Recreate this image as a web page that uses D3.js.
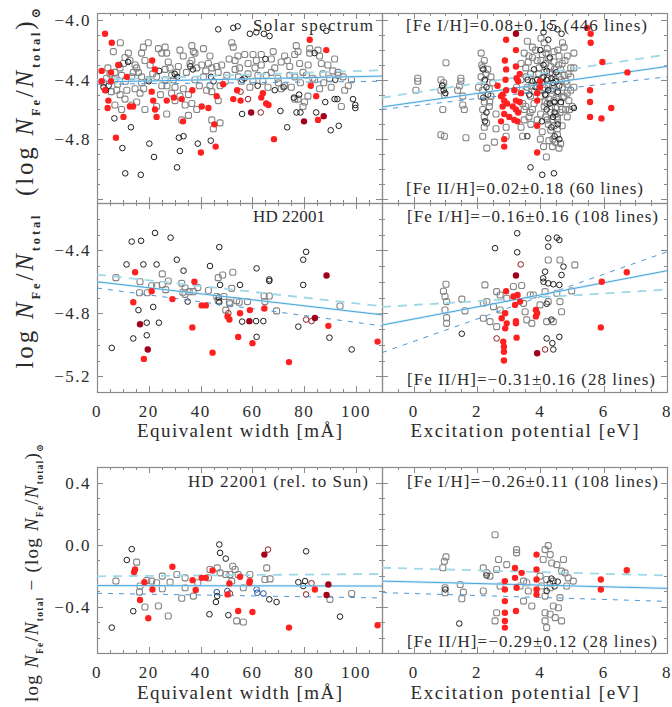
<!DOCTYPE html>
<html>
<head>
<meta charset="utf-8">
<script src="https://cdn.jsdelivr.net/npm/d3@7"></script>
<style>
  body { margin: 0; background: #fff; }
  svg text { font-family: "Liberation Serif", "DejaVu Serif", serif; fill: #2b2b2b; }
</style>
</head>
<body>
<svg id="chart" width="672" height="707"></svg>
<script>
// ---- data: [x, value]; kind added below: g = grey Fe I, k = black Fe I, o = open dark red,
//      b = open blue, r = red Fe II, d = dark red Fe II

const solarEWGrey = [
  [9.0,-4.15],[6.3,-4.21],[10.8,-4.25],[12.7,-4.27],[10.2,-4.29],[8.9,-4.32],[15.3,-4.32],[16.0,-4.35],[13.4,-4.38],[17.2,-4.38],
  [19.8,-4.15],[17.9,-4.18],[17.2,-4.22],[18.5,-4.27],[20.5,-4.30],[23.7,-4.19],[25.0,-4.22],[26.3,-4.18],[26.9,-4.22],[27.5,-4.28],
  [28.2,-4.32],[26.3,-4.33],[28.8,-4.37],[30.8,-4.35],[31.4,-4.31],[32.0,-4.20],[33.3,-4.24],[36.6,-4.17],[37.2,-4.21],[37.8,-4.22],
  [36.6,-4.27],[35.9,-4.29],[38.5,-4.32],[40.4,-4.30],[41.1,-4.19],[43.6,-4.24],[43.0,-4.29],[44.3,-4.32],[46.2,-4.31],[46.8,-4.35],
  [48.1,-4.30],[50.1,-4.37],[52.0,-4.15],[52.6,-4.18],[53.3,-4.27],[53.3,-4.33],[54.6,-4.38],[6.9,-4.40],[7.6,-4.47],[8.9,-4.50],
  [10.8,-4.53],[11.5,-4.47],[14.7,-4.46],[16.6,-4.49],[15.3,-4.55],[13.4,-4.57],[6.9,-4.57],[9.5,-4.60],[18.5,-4.60],[23.0,-4.58],
  [25.0,-4.44],[26.3,-4.40],[30.1,-4.45],[33.3,-4.46],[35.3,-4.50],[36.6,-4.56],[38.5,-4.60],[34.0,-4.57],[32.0,-4.51],[30.1,-4.54],
  [42.3,-4.47],[44.3,-4.48],[46.8,-4.54],[37.8,-4.40],[41.1,-4.38],[43.6,-4.44],[32.7,-4.67],[35.3,-4.64],[44.3,-4.67],[47.5,-4.69],
  [44.9,-4.73],[26.9,-4.63],[17.2,-4.42],[19.8,-4.40],[23.0,-4.38],[28.8,-4.49],[12.1,-4.22],[14.7,-4.30],[6.9,-4.35],[9.5,-4.37],
  [5.0,-4.36],[3.7,-4.39],
  [54.4,-4.24],[57.0,-4.23],[60.2,-4.23],[61.5,-4.27],[58.3,-4.29],[63.4,-4.23],[67.3,-4.26],[71.1,-4.28],[72.4,-4.24],[74.4,-4.31],
  [76.9,-4.17],[77.6,-4.21],[76.3,-4.23],[78.2,-4.29],[82.1,-4.19],[82.1,-4.22],[85.3,-4.20],[85.9,-4.24],[91.7,-4.26],[89.1,-4.30],
  [93.0,-4.35],[87.2,-4.36],[55.7,-4.41],[60.2,-4.41],[62.1,-4.37],[65.3,-4.37],[67.3,-4.35],[69.8,-4.39],[72.4,-4.44],[71.1,-4.46],
  [74.4,-4.37],[76.3,-4.38],[79.5,-4.35],[80.8,-4.37],[83.3,-4.39],[85.9,-4.46],[84.0,-4.40],[89.8,-4.39],[98.2,-4.40],[76.3,-4.53],
  [77.6,-4.53],[80.1,-4.55],[81.4,-4.51],[79.5,-4.58],[94.3,-4.58],[93.0,-4.37],[58.3,-4.36],[63.4,-4.30],[68.6,-4.32],[90.4,-4.45],
  [95.6,-4.47],[86.6,-4.29],
  [2.5,-4.42],[4.2,-4.32],[5.5,-4.48],[8.0,-4.43],[11.0,-4.41],[14.0,-4.35],[18.0,-4.46],[21.5,-4.36],[24.5,-4.50],[27.0,-4.44],
  [29.5,-4.40],[34.5,-4.35],[39.5,-4.44],[42.0,-4.34],[47.5,-4.44],[49.5,-4.41],[51.0,-4.26],[55.0,-4.32],[59.0,-4.45],[61.0,-4.32],
  [64.0,-4.41],[66.0,-4.45],[70.0,-4.42],[73.5,-4.27],[75.0,-4.45],[78.5,-4.42],[81.5,-4.30],[87.5,-4.42],[91.0,-4.34],[95.0,-4.38],
  [97.0,-4.44],[68.0,-4.21]
];
const solarEWBlack = [
  [6.7,-4.66],[13.1,-4.72],[9.8,-4.86],[10.9,-5.03],[16.9,-5.04],[20.2,-4.83],[22.0,-4.92],[30.9,-4.99],[31.6,-4.79],[33.4,-4.78],
  [32.0,-4.88],[38.9,-4.83],[43.9,-4.81],[46.8,-4.06],[52.6,-4.05],[54.3,-4.04],[59.0,-4.09],[61.5,-4.08],[64.4,-4.09],[66.6,-4.105],
  [88.5,-4.07],[68.6,-4.47],[56.0,-4.63],[70.8,-4.61],[77.0,-4.62],[78.5,-4.62],[84.6,-4.62],[73.4,-4.72],[90.2,-4.74],[93.3,-4.71],
  [88.1,-4.55],[91.7,-4.53],[92.8,-4.53],[98.8,-4.53],[99.7,-4.57],[99.7,-4.59],
  [2.5,-4.45],[3.5,-4.47],[4.5,-4.44],[8.5,-4.30],[12.0,-4.28],[20.0,-4.41],[24.0,-4.34],[30.0,-4.36],[31.0,-4.38],[36.0,-4.31],
  [37.0,-4.33],[44.0,-4.38],[45.0,-4.41],[56.0,-4.40],[57.0,-4.39],[62.0,-4.44],[72.0,-4.45],[76.0,-4.52],[78.0,-4.50],[65.0,-4.26],
  [92.0,-4.40],[84.0,-4.22]
];
const solarEWOpenRed = [[58.3,-4.53],[63.2,-4.62],[55.4,-4.48]];
const solarEWRed = [
  [3.1,-4.09],[5.7,-4.15],[1.8,-4.34],[5.4,-4.35],[8.2,-4.30],[1.8,-4.41],[5.4,-4.41],[3.1,-4.47],[4.4,-4.54],[4.1,-4.59],
  [11.5,-4.38],[12.7,-4.58],[13.9,-4.58],[10.2,-4.65],[21.3,-4.27],[22.4,-4.33],[21.1,-4.48],[21.7,-4.54],[22.4,-4.60],[23.0,-4.65],
  [7.3,-4.79],[26.9,-4.54],[29.7,-4.52],[32.7,-4.53],[36.8,-4.47],[40.4,-4.58],[43.0,-4.59],[40.1,-4.89],[45.3,-4.70],[45.8,-4.85],
  [46.2,-4.51],[48.7,-4.43],[52.6,-4.53],[54.1,-4.47],[82.1,-4.13],[88.5,-4.20],[82.5,-4.44],[84.6,-4.51],[64.0,-4.49],[63.4,-4.52],
  [65.3,-4.56],[66.2,-4.57],[55.4,-4.54],[85.3,-4.67],[68.3,-4.80],[33.2,-4.68]
];
const solarEWDark = [[59.5,-4.62],[79.9,-4.68],[87.5,-4.645]];

const solarEPGrey = [
  [1.02,-4.285],[0.13,-4.39],[0.13,-4.41],[0.07,-4.47],[0.86,-4.40],[0.92,-4.44],[0.86,-4.47],[0.97,-4.50],[0.92,-4.60],[0.86,-4.77],
  [0.97,-4.78],[1.49,-4.39],[1.49,-4.41],[1.39,-4.47],[1.55,-4.51],[1.55,-4.57],[1.60,-4.60],[1.65,-4.79],[2.13,-4.22],[2.23,-4.27],
  [2.18,-4.32],[2.13,-4.38],[2.23,-4.41],[2.18,-4.47],[2.13,-4.51],[2.23,-4.55],[2.18,-4.60],[2.23,-4.65],[2.23,-4.72],[2.18,-4.78],
  [2.31,-4.86],[2.34,-4.33],[2.44,-4.38],[2.39,-4.46],[2.44,-4.51],[2.39,-4.58],[2.60,-4.63],[2.60,-4.73],[2.55,-4.82],[2.92,-4.72],
  [2.92,-4.78],[3.44,-4.78],[3.49,-4.60],[3.39,-4.29],[3.49,-4.22],[3.39,-4.40],[3.55,-4.47],[3.44,-4.56],[3.49,-4.67],[3.39,-4.72],
  [3.59,-4.14],[3.75,-4.18],[3.64,-4.24],[3.54,-4.32],[3.69,-4.36],[3.59,-4.45],[3.69,-4.51],[3.54,-4.58],[3.64,-4.65],[3.75,-4.60],
  [4.12,-4.15],[4.22,-4.19],[4.06,-4.23],[4.27,-4.26],[4.17,-4.29],[4.33,-4.31],[4.12,-4.35],[4.38,-4.36],[4.22,-4.39],[4.48,-4.40],
  [4.12,-4.45],[4.33,-4.47],[4.54,-4.49],[4.17,-4.50],[4.43,-4.54],[4.22,-4.56],[4.48,-4.59],[4.33,-4.62],[4.54,-4.65],[4.22,-4.67],
  [4.43,-4.71],[4.33,-4.74],[4.54,-4.77],[4.48,-4.82],[4.59,-4.86],[4.64,-4.83],[4.54,-4.73],[4.75,-4.18],[4.85,-4.24],[5.06,-4.22],
  [4.69,-4.29],[4.96,-4.32],[4.75,-4.37],[5.06,-4.32],[4.80,-4.41],[4.96,-4.47],[4.75,-4.51],[5.01,-4.58],[4.69,-4.60],[4.85,-4.65],
  [4.19,-4.92],[3.85,-4.20],[3.90,-4.27],[3.96,-4.32],[3.85,-4.40],[3.96,-4.47],[3.80,-4.56],[4.01,-4.63],[3.90,-4.67],[4.06,-4.75],
  [4.27,-4.81],[4.38,-4.85],[4.64,-4.33],[4.59,-4.24],[4.43,-4.21],[4.85,-4.49],[4.90,-4.54],[4.64,-4.56],[4.80,-4.60],[4.54,-4.67],
  [4.69,-4.71],[4.48,-4.63],[4.38,-4.44],[4.27,-4.53],[4.12,-4.58],[4.01,-4.51],[4.17,-4.65],[4.38,-4.67],[4.06,-4.39],[4.43,-4.28],
  [4.59,-4.38],[4.96,-4.38],[5.06,-4.45],[3.70,-4.70],[4.00,-4.80],[4.70,-4.45],[2.05,-4.45],[2.30,-4.69],
  [3.62,-4.28],[3.72,-4.44],[3.82,-4.48],[3.95,-4.36],[4.02,-4.27],[4.08,-4.47],[4.15,-4.55],[4.25,-4.44],[4.30,-4.35],[4.35,-4.58],
  [4.40,-4.46],[4.45,-4.33],[4.50,-4.52],[4.58,-4.30],[4.62,-4.62],[4.66,-4.40],[4.72,-4.52],[4.78,-4.27],[4.84,-4.43],[4.88,-4.36],
  [4.92,-4.60],[4.25,-4.70],[4.40,-4.80],[4.10,-4.85],[3.75,-4.25],[3.68,-4.62],[4.55,-4.20],[4.18,-4.22],[4.02,-4.12],[4.70,-4.15],
  [3.25,-4.45],[3.55,-4.38],[2.15,-4.30],[2.40,-4.55],[2.28,-4.36],[0.95,-4.42],[1.45,-4.44],[2.50,-4.42]
];
const solarEPBlack = [
  [4.10,-4.08],[4.30,-4.04],[4.54,-4.06],[4.67,-4.09],[3.69,-4.99],[4.06,-5.04],[4.43,-5.03],[3.59,-4.78],[5.06,-4.59],
  [2.20,-4.33],[2.25,-4.40],[2.30,-4.45],[2.35,-4.50],[2.20,-4.52],[2.30,-4.62],[2.25,-4.68],[0.90,-4.44],[0.95,-4.47],[1.00,-4.49],
  [3.60,-4.40],[3.75,-4.41],[3.90,-4.40],[4.05,-4.42],[4.20,-4.40],[4.35,-4.39],[4.50,-4.41],[4.10,-4.30],[4.30,-4.25],[4.45,-4.55],
  [4.20,-4.60],[4.35,-4.72],[4.45,-4.78],[4.60,-4.80],[3.65,-4.50],[3.80,-4.33],[4.00,-4.20],[4.25,-4.13],[4.55,-4.48],[4.40,-4.65],
  [3.95,-4.43],[4.10,-4.38],[4.25,-4.47],[4.40,-4.42],[4.15,-4.50],[4.30,-4.56],[4.50,-4.35],[4.60,-4.44],[3.85,-4.45],[4.45,-4.62],
  [4.05,-4.68],[4.55,-4.70],[4.65,-4.55],[4.20,-4.34]
];
const solarEPRed = [
  [2.92,-4.13],[3.23,-4.20],[2.88,-4.27],[2.92,-4.33],[3.23,-4.31],[2.65,-4.44],[2.81,-4.50],[2.86,-4.54],[2.81,-4.58],[2.86,-4.63],
  [2.76,-4.68],[3.18,-4.47],[3.23,-4.54],[3.23,-4.60],[3.28,-4.68],[3.39,-4.49],[3.13,-4.58],[2.86,-4.80],[2.86,-4.85],[3.18,-4.67],
  [2.76,-4.51],[2.92,-4.47],[3.02,-4.65],[3.30,-4.41],[3.99,-4.41],[3.99,-4.45],[5.59,-4.09],[5.59,-4.15],[5.48,-4.05],[5.96,-4.28],
  [6.75,-4.35],[5.57,-4.47],[5.57,-4.55],[5.57,-4.65],[5.93,-4.66],[6.24,-4.59],[3.90,-4.71],[3.90,-4.89],[3.90,-4.49],[3.90,-4.54],
  [3.35,-4.36],[3.25,-4.39],[2.90,-4.40],[2.95,-4.56],[3.30,-4.62],[3.35,-4.55]
];
const solarEPDark = [[3.23,-4.09]];

const starEWGrey = [
  [7.3,-4.574],[16.6,-4.60],[16.4,-4.67],[19.4,-4.67],[21.1,-4.625],[25.2,-4.55],[25.2,-4.617],[26.5,-4.65],[27.5,-4.595],[23.0,-4.625],
  [32.7,-4.61],[34.0,-4.64],[34.0,-4.68],[35.6,-4.663],[33.1,-4.667],[37.2,-4.663],[38.9,-4.637],[43.0,-4.656],[46.2,-4.694],[46.8,-4.72],
  [46.8,-4.574],[48.5,-4.557],[49.0,-4.694],[49.7,-4.78],[51.1,-4.73],[52.0,-4.642],[52.4,-4.54],[53.9,-4.72],[51.3,-4.74],[58.1,-4.726],
  [64.5,-4.69],[66.5,-4.69],[69.3,-4.785],[93.8,-4.754],[64.8,-4.726],[54.9,-4.73]
];
const starEWBlack = [
  [5.7,-5.02],[11.4,-4.49],[13.4,-4.345],[17.0,-4.34],[17.9,-4.49],[22.4,-4.29],[23.0,-4.49],[28.4,-4.32],[30.8,-4.46],[33.4,-4.53],
  [35.0,-4.726],[21.7,-4.76],[16.0,-4.78],[14.0,-4.96],[19.2,-4.94],[19.2,-4.86],[23.9,-4.86],[43.6,-4.50],[47.2,-4.38],[47.5,-4.62],
  [55.2,-4.62],[61.6,-4.515],[56.0,-4.853],[61.4,-4.85],[64.2,-4.85],[61.6,-4.95],[66.5,-4.585],[66.5,-4.595],[77.7,-4.885],[79.6,-4.46],
  [80.7,-4.41],[79.6,-4.62],[89.7,-4.955],[98.3,-5.03],[47.2,-4.73],[47.0,-4.70]
];
const starEWOpenRed = [[50.7,-4.80],[80.7,-4.84],[82.8,-4.85]];
const starEWRed = [
  [14.7,-4.54],[14.0,-4.73],[21.1,-4.66],[18.1,-5.09],[29.1,-4.71],[37.6,-4.60],[36.8,-4.89],[40.4,-4.75],[42.0,-4.75],[44.6,-5.05],
  [50.4,-4.82],[51.1,-4.84],[55.2,-4.80],[54.5,-4.95],[59.0,-4.78],[60.0,-4.99],[64.6,-4.77],[74.1,-5.11],[89.3,-4.88],[108.3,-4.98]
];
const starEWDark = [[16.6,-4.87],[19.6,-5.03],[58.8,-4.85],[84.1,-4.83],[88.6,-4.56]];

const starEPGrey = [
  [1.02,-4.616],[0.94,-4.66],[0.99,-4.694],[1.04,-4.726],[0.99,-4.779],[1.04,-4.828],[1.04,-4.864],[1.52,-4.71],[1.62,-4.785],[2.25,-4.62],
  [2.31,-4.726],[2.20,-4.832],[2.41,-4.853],[2.62,-4.885],[2.20,-4.737],[2.52,-4.758],[2.62,-4.663],[2.73,-4.684],[2.94,-4.705],[3.41,-4.624],
  [3.47,-4.737],[3.52,-4.79],[3.68,-4.684],[3.73,-4.864],[3.57,-4.842],[3.99,-4.747],[4.15,-4.663],[4.25,-4.726],[4.62,-4.462],[5.09,-4.493],
  [4.25,-4.462],[4.99,-4.658],[4.41,-4.853],[4.62,-4.726],[4.67,-4.79],[4.20,-4.853],[3.78,-4.684],[4.52,-4.673],[2.73,-4.779],[3.15,-4.63]
];
const starEPBlack = [
  [3.27,-4.292],[2.57,-4.387],[3.27,-4.413],[4.25,-4.324],[4.25,-4.377],[4.52,-4.32],[4.60,-4.335],[1.52,-4.93],[4.20,-4.96],[4.38,-4.99],
  [4.60,-4.95],[4.41,-5.03],[4.73,-4.504],[4.67,-4.557],[4.09,-4.578],[4.15,-4.536],[4.25,-4.61],[4.41,-4.616],[4.10,-4.60],[4.20,-4.74],
  [4.35,-4.84],[4.60,-4.62]
];
const starEPOpenRed = [[3.38,-4.49],[4.15,-5.03],[2.62,-4.96]];
const starEPRed = [
  [2.92,-4.66],[3.15,-4.694],[3.20,-4.747],[2.89,-4.80],[2.94,-4.864],[3.23,-4.85],[3.23,-4.864],[3.25,-4.955],[2.83,-4.98],[2.85,-5.012],
  [2.85,-5.044],[2.85,-5.10],[3.86,-4.779],[3.86,-4.82],[5.94,-4.60],[6.73,-4.54],[5.91,-4.89],[3.36,-4.726],[3.28,-4.684],[2.78,-4.832],
  [2.89,-4.896],[3.90,-4.80]
];
const starEPDark = [[3.23,-4.56],[3.90,-5.054]];

const relEWGrey = [
  [7.3,-0.236],[15.3,-0.114],[16.6,-0.268],[16.4,-0.307],[18.5,-0.403],[19.2,-0.232],[21.1,-0.236],[23.0,-0.247],[25.2,-0.204],[25.2,-0.285],
  [27.5,-0.461],[23.7,-0.397],[28.2,-0.243],[30.8,-0.194],[32.7,-0.347],[34.0,-0.215],[34.0,-0.279],[37.2,-0.333],[38.9,-0.247],[43.0,-0.215],
  [43.6,-0.161],[46.4,-0.151],[47.5,-0.183],[49.7,-0.194],[51.3,-0.194],[52.4,-0.14],[53.3,-0.161],[53.9,-0.493],[56.5,-0.50],[54.5,-0.194],
  [59.0,-0.194],[64.8,-0.226],[65.5,-0.151],[66.8,-0.222],[89.9,-0.354],[98.3,-0.316],[52.0,-0.236],[56.5,-0.279]
];
const relEWBlack = [
  [5.7,-0.536],[11.5,-0.10],[13.4,-0.03],[14.0,-0.43],[47.2,0.0],[47.5,-0.054],[49.7,-0.091],[45.9,-0.371],[46.4,-0.333],[43.4,-0.45],
  [50.7,-0.456],[66.5,-0.354],[69.3,-0.371],[80.7,-0.044],[93.8,-0.465],[77.7,-0.243],[79.6,-0.268],[80.3,-0.236]
];
const relEWOpenRed = [[66.0,-0.033],[51.3,-0.316],[80.7,-0.322],[82.8,-0.25]];
const relEWBlue = [[46.2,-0.307],[61.6,-0.29],[61.9,-0.311],[64.2,-0.316],[50.3,-0.30]];
const relEWRed = [
  [14.3,-0.178],[14.7,-0.161],[16.6,-0.358],[18.3,-0.243],[19.8,-0.476],[21.4,-0.29],[29.1,-0.144],[36.9,-0.23],[38.1,-0.294],[40.4,-0.215],
  [42.0,-0.215],[44.6,-0.168],[50.4,-0.322],[51.1,-0.251],[54.5,-0.429],[55.2,-0.208],[59.0,-0.236],[60.0,-0.435],[74.1,-0.536],[84.1,-0.29],
  [108.3,-0.521],[58.8,-0.247]
];
const relEWDark = [[64.6,-0.065],[89.3,-0.258],[88.6,-0.326]];

const relEPGrey = [
  [2.57,0.063],[3.25,-0.033],[3.25,-0.054],[1.02,-0.08],[0.97,-0.108],[0.92,-0.15],[2.68,-0.097],[2.62,-0.161],[2.20,-0.151],[2.31,-0.183],
  [2.41,-0.204],[1.47,-0.258],[1.57,-0.307],[1.52,-0.35],[0.99,-0.279],[0.99,-0.311],[2.62,-0.44],[2.57,-0.493],[2.20,-0.30],[2.73,-0.268],
  [2.94,-0.13],[3.47,-0.236],[3.36,-0.268],[3.47,-0.365],[3.73,-0.397],[4.15,-0.033],[4.25,-0.007],[4.31,-0.065],[4.09,-0.097],[4.36,-0.119],
  [4.52,-0.13],[4.73,-0.097],[4.67,-0.172],[4.78,-0.183],[4.88,-0.215],[4.20,-0.226],[4.41,-0.236],[4.04,-0.268],[4.31,-0.279],[4.15,-0.333],
  [4.62,-0.343],[4.15,-0.44],[4.31,-0.45],[4.15,-0.493],[4.20,-0.536],[4.47,-0.472],[4.67,-0.493],[4.57,-0.408],[4.41,-0.397],[3.99,-0.204],
  [3.57,-0.247],[3.62,-0.30],[5.04,-0.236],[4.83,-0.268]
];
const relEPBlack = [[1.44,-0.51],[1.00,-0.29],[4.30,-0.25],[4.45,-0.27],[4.55,-0.24],[4.20,-0.30],[2.30,-0.20],[4.35,-0.22]];
const relEPRed = [
  [3.88,-0.065],[3.88,-0.161],[3.88,-0.226],[3.88,-0.29],[3.88,-0.322],[3.20,-0.151],[3.41,-0.183],[3.20,-0.215],[3.25,-0.279],[3.23,-0.429],
  [2.88,-0.236],[2.88,-0.29],[2.88,-0.365],[2.88,-0.44],[2.88,-0.493],[2.88,-0.536],[5.91,-0.226],[5.91,-0.29],[6.73,-0.166]
];

// fitted trends: [x0, y0, x1, y1] for solid fit, long-dash and short-dash bounds
const solarEWFit = [[0,-4.415,110,-4.375],[0,-4.40,110,-4.335],[0,-4.43,110,-4.41]];
const solarEPFit = [[-1,-4.583,8,-4.31],[-1,-4.52,8,-4.23],[-1,-4.60,8,-4.38]];
const starEWFit = [[0,-4.60,110,-4.81],[0,-4.555,110,-4.755],[0,-4.64,110,-4.88]];
const starEPFit = [[-1,-4.875,8,-4.53],[-1,-4.76,8,-4.65],[-1,-5.05,8,-4.41]];
const relEWFit = [[0,-0.265,110,-0.268],[0,-0.205,110,-0.19],[0,-0.315,110,-0.345]];
const relEPFit = [[-1,-0.236,8,-0.283],[-1,-0.15,8,-0.20],[-1,-0.31,8,-0.367]];

const ewTicks = [0, 20, 40, 60, 80, 100];
const epTicks = [0, 2, 4, 6, 8];
const solarTicks = [-4.0, -4.4, -4.8];
const starTicks = [-4.4, -4.8, -5.2];
const relTicks = [0.4, 0.0, -0.4];

const solarNotes = ['Solar spectrum', '[Fe I/H]=0.08\u00b10.15 (446 lines)', '[Fe II/H]=0.02\u00b10.18 (60 lines)'];
const starNotes = ['HD 22001', '[Fe I/H]=\u22120.16\u00b10.16 (108 lines)', '[Fe II/H]=\u22120.31\u00b10.16 (28 lines)'];
const relNotes = ['HD 22001 (rel. to Sun)', '[Fe I/H]=\u22120.26\u00b10.11 (108 lines)', '[Fe II/H]=\u22120.29\u00b10.12 (28 lines)'];

// ---- layout
const svg = d3.select('#chart');
const cols = { left: [97, 382], right: [382, 667] };
const rows = { top: [13, 203], mid: [203, 392], bot: [467, 653] };
const fmt = d3.format('.1f');

const tag = (arr, k) => arr.map(d => [d[0], d[1], k]);

function drawPanel(p) {
  const [x0, x1] = cols[p.col];
  const [y0, y1] = rows[p.row];
  const x = d3.scaleLinear().domain(p.xDomain).range([x0, x1]);
  const y = d3.scaleLinear().domain(p.yDomain).range([y1, y0]);
  const g = svg.append('g');

  const clipId = 'clip-' + p.col + '-' + p.row;
  svg.append('clipPath').attr('id', clipId)
    .append('rect').attr('x', x0).attr('y', y0).attr('width', x1 - x0).attr('height', y1 - y0);

  // ticks on all four sides, pointing inward
  const tk = g.append('g').attr('stroke', '#8a8a8a').attr('stroke-width', 1);
  d3.range(p.xDomain[0], p.xDomain[1] + 1e-6, p.xMinorStep).forEach(v => {
    const major = p.xTicks.some(t => Math.abs(t - v) < 1e-6);
    const len = major ? 6 : 3;
    const px = Math.round(x(v)) + 0.5;
    tk.append('line').attr('x1', px).attr('x2', px).attr('y1', y1).attr('y2', y1 - len);
    tk.append('line').attr('x1', px).attr('x2', px).attr('y1', y0).attr('y2', y0 + len);
  });
  y.ticks(14).forEach(v => {
    const major = Math.abs(Math.round(v * 10)) % 4 === 0;
    const len = major ? 6 : 3;
    const py = Math.round(y(v)) + 0.5;
    tk.append('line').attr('x1', x0).attr('x2', x0 + len).attr('y1', py).attr('y2', py);
    tk.append('line').attr('x1', x1).attr('x2', x1 - len).attr('y1', py).attr('y2', py);
  });

  g.append('rect').attr('x', x0 + 0.5).attr('y', y0 + 0.5)
    .attr('width', x1 - x0).attr('height', y1 - y0)
    .attr('fill', 'none').attr('stroke', '#8a8a8a').attr('stroke-width', 1.2);

  // open symbols
  const pts = g.append('g');
  const pick = k => p.points.filter(d => d[2] === k);
  pts.selectAll('rect.g').data(pick('g')).join('rect')
    .attr('x', d => x(d[0]) - 3).attr('y', d => y(d[1]) - 3)
    .attr('width', 6).attr('height', 6).attr('rx', 2)
    .attr('fill', 'none').attr('stroke', '#858585').attr('stroke-width', 1.1);
  const openStyles = { k: '#1e1e1e', o: '#8e1c22', b: '#23509e' };
  Object.entries(openStyles).forEach(([k, c]) => {
    pts.append('g').selectAll('circle').data(pick(k)).join('circle')
      .attr('cx', d => x(d[0])).attr('cy', d => y(d[1])).attr('r', 2.8)
      .attr('fill', 'none').attr('stroke', c).attr('stroke-width', 1);
  });

  // fit lines
  const ln = g.append('g').attr('clip-path', `url(#${clipId})`);
  const [solid, dashA, dashB] = p.fit;
  const seg = f => ln.append('line')
    .attr('x1', x(f[0])).attr('y1', y(f[1])).attr('x2', x(f[2])).attr('y2', y(f[3]));
  seg(dashA).attr('stroke', '#9fd8e8').attr('stroke-width', 1.8).attr('stroke-dasharray', '9,7');
  seg(dashB).attr('stroke', '#4a98da').attr('stroke-width', 1).attr('stroke-dasharray', '5,6');
  seg(solid).attr('stroke', '#c4e6f4').attr('stroke-width', 2.6).attr('opacity', 0.6);
  seg(solid).attr('stroke', '#4aa6de').attr('stroke-width', 1);

  // filled Fe II symbols on top
  const fillStyles = { r: '#ff2020', d: '#a3001c' };
  Object.entries(fillStyles).forEach(([k, c]) => {
    g.append('g').selectAll('circle').data(pick(k)).join('circle')
      .attr('cx', d => x(d[0])).attr('cy', d => y(d[1])).attr('r', 3.2)
      .attr('fill', c);
  });

  // tick labels
  if (p.xLabels) {
    p.xTicks.forEach(v => {
      svg.append('text').attr('x', x(v)).attr('y', y1 + 25)
        .attr('text-anchor', 'middle').attr('font-size', 17).attr('letter-spacing', 1.5)
        .text(v);
    });
  }
  if (p.yTicks) {
    p.yTicks.forEach(v => {
      svg.append('text').attr('x', x0 - 6).attr('y', y(v) + 6)
        .attr('text-anchor', 'end').attr('font-size', 17).attr('letter-spacing', 1.5)
        .text(fmt(v));
    });
  }

  // annotations
  p.notes.forEach(n => {
    svg.append('text').attr('x', n.x).attr('y', n.y)
      .attr('font-size', 17).attr('textLength', n.len).attr('lengthAdjust', 'spacing')
      .text(n.text);
  });
}

const sets = {
  solarEW: [...tag(solarEWGrey,'g'), ...tag(solarEWBlack,'k'), ...tag(solarEWOpenRed,'o'), ...tag(solarEWRed,'r'), ...tag(solarEWDark,'d')],
  solarEP: [...tag(solarEPGrey,'g'), ...tag(solarEPBlack,'k'), ...tag(solarEPRed,'r'), ...tag(solarEPDark,'d')],
  starEW: [...tag(starEWGrey,'g'), ...tag(starEWBlack,'k'), ...tag(starEWOpenRed,'o'), ...tag(starEWRed,'r'), ...tag(starEWDark,'d')],
  starEP: [...tag(starEPGrey,'g'), ...tag(starEPBlack,'k'), ...tag(starEPOpenRed,'o'), ...tag(starEPRed,'r'), ...tag(starEPDark,'d')],
  relEW: [...tag(relEWGrey,'g'), ...tag(relEWBlack,'k'), ...tag(relEWOpenRed,'o'), ...tag(relEWBlue,'b'), ...tag(relEWRed,'r'), ...tag(relEWDark,'d')],
  relEP: [...tag(relEPGrey,'g'), ...tag(relEPBlack,'k'), ...tag(relEPRed,'r')]
};

const ew = { col: 'left', xDomain: [0, 110], xTicks: ewTicks, xMinorStep: 5 };
const ep = { col: 'right', xDomain: [-1, 8], xTicks: epTicks, xMinorStep: 0.5 };

drawPanel({ ...ew, row: 'top', yDomain: [-5.23, -3.95], yTicks: solarTicks, points: sets.solarEW, fit: solarEWFit,
  notes: [{ text: solarNotes[0], x: 253, y: 31, len: 120 }] });
drawPanel({ ...ep, row: 'top', yDomain: [-5.23, -3.95], points: sets.solarEP, fit: solarEPFit,
  notes: [{ text: solarNotes[1], x: 406, y: 31, len: 241 }, { text: solarNotes[2], x: 406, y: 194, len: 237 }] });
drawPanel({ ...ew, row: 'mid', yDomain: [-5.3, -4.1], yTicks: starTicks, xLabels: true, points: sets.starEW, fit: starEWFit,
  notes: [{ text: starNotes[0], x: 253, y: 222, len: 72 }] });
drawPanel({ ...ep, row: 'mid', yDomain: [-5.3, -4.1], xLabels: true, points: sets.starEP, fit: starEPFit,
  notes: [{ text: starNotes[1], x: 407, y: 222, len: 251 }, { text: starNotes[2], x: 407, y: 385, len: 248 }] });
drawPanel({ ...ew, row: 'bot', yDomain: [-0.7, 0.5], yTicks: relTicks, xLabels: true, points: sets.relEW, fit: relEWFit,
  notes: [{ text: relNotes[0], x: 188, y: 487, len: 180 }] });
drawPanel({ ...ep, row: 'bot', yDomain: [-0.7, 0.5], xLabels: true, points: sets.relEP, fit: relEPFit,
  notes: [{ text: relNotes[1], x: 407, y: 487, len: 251 }, { text: relNotes[2], x: 407, y: 647, len: 250 }] });

// x axis titles
[['Equivalent width [m\u00c5]', 239.5, 205], ['Excitation potential [eV]', 524.5, 228]].forEach(([t, cx, len]) => {
  [437, 699].forEach(by => {
    svg.append('text').attr('x', cx - len / 2).attr('y', by)
      .attr('font-size', 19).attr('textLength', len).attr('lengthAdjust', 'spacing').text(t);
  });
});

// y axis titles (rotated, with subscripts)
function yTitle(cx, cy, size, len, segs) {
  const t = svg.append('text')
    .attr('transform', `translate(${cx},${cy}) rotate(-90)`)
    .attr('x', -len / 2).attr('font-size', size)
    .attr('textLength', len).attr('lengthAdjust', 'spacing');
  let low = false;
  segs.forEach(([s, kind]) => {
    const ts = t.append('tspan').text(s);
    const sub = kind === 's';
    if (sub && !low) ts.attr('dy', size * 0.28);
    if (!sub && low) ts.attr('dy', -size * 0.28);
    low = sub;
    if (sub) ts.attr('font-size', size * 0.5).attr('font-weight', 'bold');
    if (kind === 'i') ts.attr('font-style', 'italic');
  });
}
const logPart = [['log ', 'n'], ['N', 'i'], ['Fe', 's'], ['/', 'n'], ['N', 'i'], ['total', 's']];
yTitle(33, 102, 25, 188, [['(', 'n'], ...logPart, [')', 'n'], ['\u2299', 's']]);
yTitle(33, 292, 25, 153, logPart);
yTitle(38, 573, 19, 258, [...logPart, [' \u2212 (', 'n'], ...logPart, [')', 'n'], ['\u2299', 's']]);
</script>
</body>
</html>
